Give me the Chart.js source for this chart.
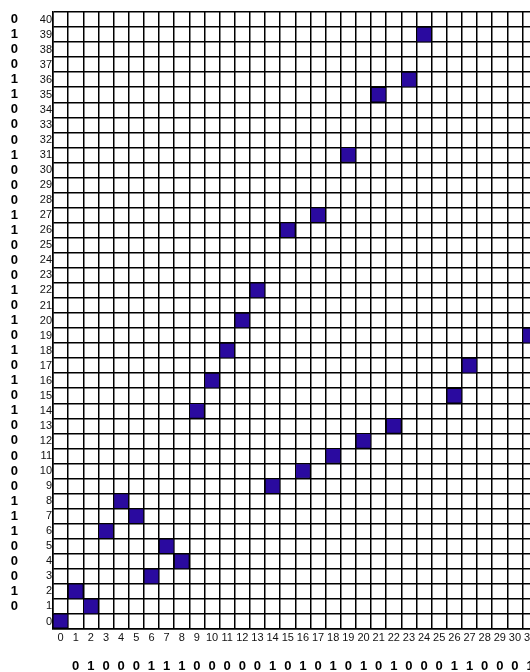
<!DOCTYPE html>
<html>
<head>
<meta charset="utf-8">
<script src="https://cdn.jsdelivr.net/npm/chart.js@4/dist/chart.umd.min.js"></script>
<style>
    html, body { margin: 0; padding: 0; background: #fff; overflow: hidden; }
    #wrap { width: 677px; height: 672px; }
</style>
</head>
<body>
<div id="wrap"><canvas id="gridChart" width="677" height="672"></canvas></div>
<script>
// 列标签 0..40（右侧超出画面）
const colLabels = ['0','1','2','3','4','5','6','7','8','9','10','11','12','13','14','15','16','17','18','19','20',
                   '21','22','23','24','25','26','27','28','29','30','31','32','33','34','35','36','37','38','39','40'];

// 填色格子：列 / 行
const cellCols = [0, 1, 2, 3, 4, 5, 6, 7, 8, 9, 10, 11, 12, 13, 14, 15, 16, 17, 18, 19, 20, 21, 22, 23, 24, 26, 27, 31];
const cellRows = [0, 2, 1, 6, 8, 7, 3, 5, 4, 14, 16, 18, 20, 22, 9, 26, 10, 27, 11, 31, 12, 35, 13, 36, 39, 15, 17, 19];

// 左侧比特，行 40 -> 1
const rowBits = [0, 1, 0, 0, 1, 1, 0, 0, 0, 1,
                 0, 0, 0, 1, 1, 0, 0, 0, 1, 0,
                 1, 0, 1, 0, 1, 0, 1, 0, 0, 0,
                 0, 0, 1, 1, 1, 0, 0, 0, 1, 0];

// 底部比特，列 1 -> 31
const colBits = [0, 1, 0, 0, 0, 1, 1, 1, 0,
                 0, 0, 0, 0, 1, 0, 1, 0, 1, 0, 1,
                 0, 1, 0, 0, 0, 1, 1, 0, 0, 0, 1];

document.addEventListener('DOMContentLoaded', function() {
    Chart.defaults.font.family = '"Liberation Sans", Arial, sans-serif';

    // 底部比特轴的标签（第 0 列没有）
    const bitLabels = colLabels.map((c, i) => (i >= 1 && i <= colBits.length) ? String(colBits[i - 1]) : '');

    const cells = cellCols.map((c, i) => ({ x: String(c), y: [cellRows[i], cellRows[i] + 1] }));

    const bitFont = { size: 13, weight: 'bold' };
    const numFont = { size: 11 };

    // 纵轴不要额外的上下留白
    function fixYAxis(width) {
        return function(scale) {
            scale.width = width;
            scale.paddingTop = 0;
            scale.paddingBottom = 0;
        };
    }

    // 横轴不要额外的左右留白
    function fixXAxis(height) {
        return function(scale) {
            scale.height = height;
            scale.paddingLeft = 0;
            scale.paddingRight = 0;
        };
    }

    new Chart(document.getElementById('gridChart'), {
        type: 'bar',
        data: {
            datasets: [{
                data: cells,
                backgroundColor: '#2a0a9f',
                borderColor: '#000',
                borderWidth: 1,
                borderSkipped: false,
                barPercentage: 1,
                categoryPercentage: 1,
                xAxisID: 'x',
                yAxisID: 'y'
            }]
        },
        options: {
            responsive: false,
            animation: false,
            layout: { padding: { top: 12, right: 3, left: 0, bottom: 0 } },
            plugins: {
                legend: { display: false },
                tooltip: { enabled: false }
            },
            scales: {
                x: {
                    type: 'category',
                    labels: colLabels,
                    position: 'bottom',
                    weight: 0,
                    offset: true,
                    grid: { offset: true, color: '#000', lineWidth: 1.5, drawTicks: false },
                    border: { color: '#000', width: 1.5 },
                    ticks: { color: '#111', font: numFont, padding: 2, autoSkip: false, maxRotation: 0, minRotation: 0 },
                    afterFit: fixXAxis(16)
                },
                xBits: {
                    type: 'category',
                    labels: bitLabels,
                    position: 'bottom',
                    weight: 1,
                    offset: true,
                    grid: { display: false, drawTicks: false },
                    border: { display: false },
                    ticks: { color: '#000', font: bitFont, padding: 14, autoSkip: false, maxRotation: 0, minRotation: 0 },
                    afterFit: fixXAxis(27)
                },
                y: {
                    type: 'linear',
                    min: 0,
                    max: 41,
                    position: 'left',
                    weight: 0,
                    grid: { color: '#000', lineWidth: 1.5, drawTicks: false },
                    border: { color: '#000', width: 1.5 },
                    ticks: {
                        stepSize: 1,
                        autoSkip: false,
                        padding: 1,
                        labelOffset: -7.5,
                        color: '#111',
                        font: numFont,
                        callback: function(value) { return value <= 40 ? String(value) : ''; }
                    },
                    afterFit: fixYAxis(25)
                },
                yBits: {
                    type: 'linear',
                    min: 0,
                    max: 41,
                    position: 'left',
                    weight: 1,
                    grid: { display: false, drawTicks: false },
                    border: { display: false },
                    ticks: {
                        stepSize: 1,
                        autoSkip: false,
                        padding: 10,
                        labelOffset: -7.5,
                        color: '#000',
                        font: bitFont,
                        callback: function(value) {
                            return (value >= 1 && value <= 40) ? String(rowBits[40 - value]) : '';
                        }
                    },
                    afterFit: fixYAxis(28)
                }
            }
        }
    });
});
</script>
</body>
</html>
